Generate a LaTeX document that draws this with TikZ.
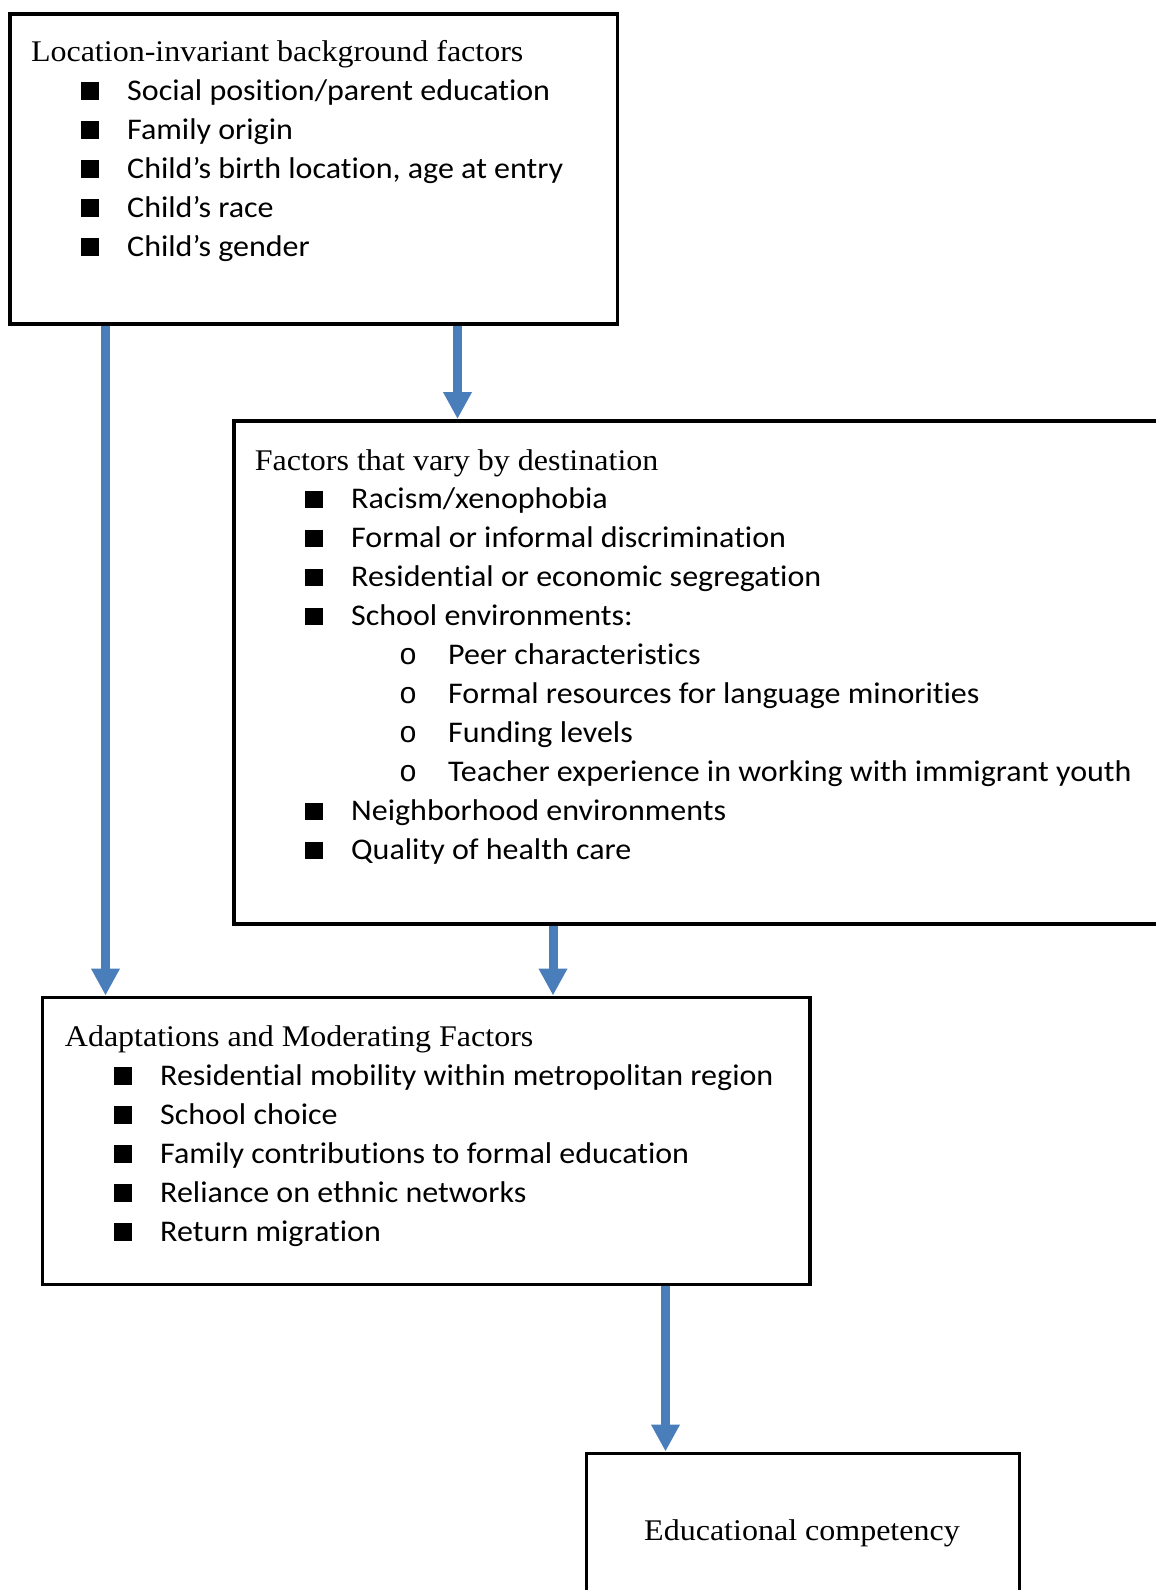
\documentclass[tikz,border=0pt]{standalone}
\usepackage{fontspec}
\setmainfont[FakeStretch=1.067]{Liberation Serif}
\newfontfamily\itemfont[FakeStretch=1.067,Ligatures=NoCommon]{Carlito}
\newfontfamily\bulletfont{Liberation Mono}
\usetikzlibrary{arrows.meta}
\definecolor{arrowblue}{HTML}{4A7EBB}
\tikzset{
 box/.style={draw=black, line width=3.5pt, rectangle, anchor=north west, inner sep=0pt},
 ttl/.style={anchor=base west, inner sep=0pt, font=\fontsize{30}{36}\selectfont},
 itm/.style={anchor=base west, inner sep=0pt, font=\itemfont\fontsize{30}{36}\selectfont},
 sq/.style={fill=black, minimum size=17.5pt, inner sep=0pt, rectangle},
 circ/.style={anchor=base west, inner sep=0pt, font=\bulletfont\fontsize{30}{36}\selectfont},
 arr/.style={draw=arrowblue, line width=9pt, -{Triangle[width=27pt,length=27pt]}},
}
\begin{document}
\begin{tikzpicture}[x=1pt,y=-1pt]
\useasboundingbox (0,0) rectangle (1156,1590);
\clip (0,0) rectangle (1156,1590);
% boxes
\node[box, minimum width=607.5pt, minimum height=310pt] (b1) at (8,12) {};
\node[box, minimum width=968pt, minimum height=503pt] (b2) at (232,419) {};
\node[box, minimum width=767.5pt, minimum height=287pt] (b3) at (40.5,995.5) {};
\node[box, minimum width=433pt, minimum height=200pt] (b4) at (584.5,1451.5) {};
% box 1
\node[ttl] (t1) at (30.8,61.7) {Location-invariant background factors};
\foreach \t [count=\i from 0] in {Social position/parent education, Family origin, {Child’s birth location, age at entry}, Child’s race, Child’s gender} {
  \node[sq] (s1\i) at (89.75,{100+39*\i-9.2}) {};
  \node[itm] (i1\i) at (127,{100+39*\i}) {\t};
}
% box 2
\node[ttl] (t2) at (254.6,470) {Factors that vary by destination};
\foreach \t [count=\i from 0] in {Racism/xenophobia, Formal or informal discrimination, Residential or economic segregation, School environments:} {
  \node[sq] (s2\i) at (313.75,{508.5+39*\i-9.2}) {};
  \node[itm] (i2\i) at (351,{508.5+39*\i}) {\t};
}
\foreach \t [count=\i from 4] in {Peer characteristics, Formal resources for language minorities, Funding levels, Teacher experience in working with immigrant youth} {
  \node[circ] (c2\i) at (399,{508.5+39*\i}) {o};
  \node[itm] (i2\i) at (448,{508.5+39*\i}) {\t};
}
\foreach \t [count=\i from 8] in {Neighborhood environments, Quality of health care} {
  \node[sq] (s2\i) at (313.75,{508.5+39*\i-9.2}) {};
  \node[itm] (i2\i) at (351,{508.5+39*\i}) {\t};
}
% box 3
\node[ttl] (t3) at (64.7,1046.7) {Adaptations and Moderating Factors};
\foreach \t [count=\i from 0] in {Residential mobility within metropolitan region, School choice, Family contributions to formal education, Reliance on ethnic networks, Return migration} {
  \node[sq] (s3\i) at (122.75,{1085+39*\i-9.2}) {};
  \node[itm] (i3\i) at (160,{1085+39*\i}) {\t};
}
% box 4
\node[ttl, anchor=base] (t4) at (802,1540) {Educational competency};
% arrows
\coordinate (xa) at (105.5,0);
\coordinate (xb) at (457.5,0);
\coordinate (xc) at (553,0);
\coordinate (xd) at (665.5,0);
\draw[arr] (xa |- b1.south) -- (xa |- b3.north);
\draw[arr] (xb |- b1.south) -- (xb |- b2.north);
\draw[arr] (xc |- b2.south) -- (xc |- b3.north);
\draw[arr] (xd |- b3.south) -- (xd |- b4.north);
\end{tikzpicture}
\end{document}
